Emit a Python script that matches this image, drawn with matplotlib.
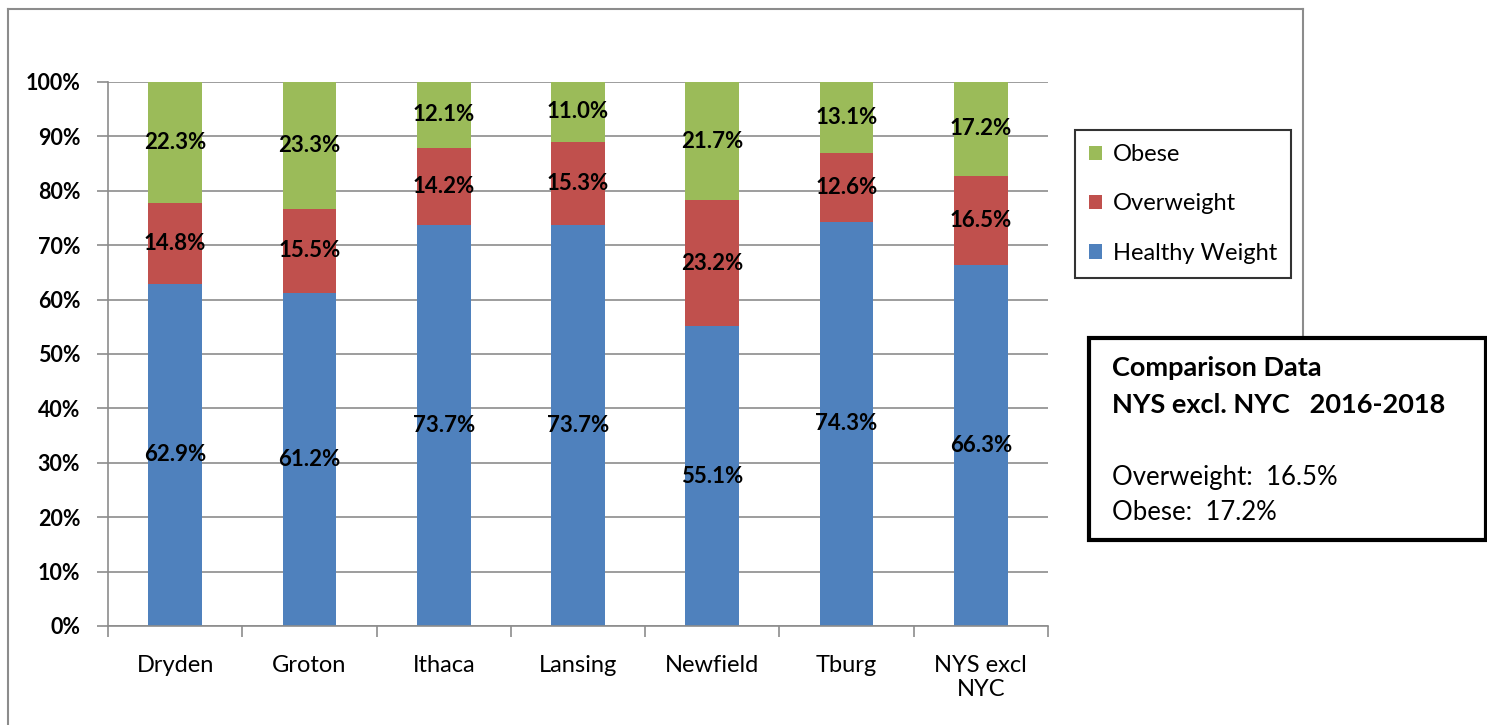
import matplotlib.pyplot as plt
import matplotlib.patches as mpatches
from matplotlib.lines import Line2D
import numpy as np

plt.rcParams['font.family'] = ['Lato', 'DejaVu Sans']

# ── data ──────────────────────────────────────────────────────────────────────
CATEGORIES = ['Dryden', 'Groton', 'Ithaca', 'Lansing', 'Newfield', 'Tburg', 'NYS excl\nNYC']
HEALTHY    = [62.9, 61.2, 73.7, 73.7, 55.1, 74.3, 66.3]
OVERWEIGHT = [14.8, 15.5, 14.2, 15.3, 23.2, 12.6, 16.5]
OBESE      = [22.3, 23.3, 12.1, 11.0, 21.7, 13.1, 17.2]
SERIES     = ['Healthy Weight', 'Overweight', 'Obese']
COLORS     = ['#4F81BD', '#C0504D', '#9BBB59']
Y_TICKS    = [0, 10, 20, 30, 40, 50, 60, 70, 80, 90, 100]

W, H = 1487, 725
fig = plt.figure(figsize=(W / 100, H / 100), dpi=100)


def fx(px):
    return px / W


def fy(py):
    return 1 - py / H


# ── outer chart frame (partly cut off) ────────────────────────────────────────
frame_kw = dict(color='#8c8c8c', lw=1.5, transform=fig.transFigure)
fig.add_artist(Line2D([fx(8), fx(8)], [fy(9), fy(730)], **frame_kw))
fig.add_artist(Line2D([fx(8), fx(1303)], [fy(9), fy(9)], **frame_kw))
fig.add_artist(Line2D([fx(1303), fx(1303)], [fy(9), fy(338)], **frame_kw))

# ── stacked bars ──────────────────────────────────────────────────────────────
ax = fig.add_axes([fx(108), fy(626), fx(1048) - fx(108), fy(82) - fy(626)])
x = np.arange(len(CATEGORIES))
bottom = np.zeros(len(CATEGORIES))
handles = []
for vals, name, col in zip([HEALTHY, OVERWEIGHT, OBESE], SERIES, COLORS):
    vals = np.array(vals)
    bars = ax.bar(x, vals, width=0.40, bottom=bottom, color=col, zorder=2, label=name)
    handles.append(bars)
    for xi, b, v in zip(x, bottom, vals):
        ax.text(xi, b + v / 2, f"{v:.1f}%", ha='center', va='center',
                fontsize=16, fontweight='bold', color='black', zorder=3)
    bottom += vals

ax.set_xlim(-0.5, len(CATEGORIES) - 0.5)
ax.set_ylim(0, 100)
ax.set_yticks(Y_TICKS)
ax.set_yticklabels([f"{t}%" for t in Y_TICKS], fontsize=15.5, fontweight='bold')
ax.grid(axis='y', color='#8c8c8c', lw=1.2, zorder=0)
ax.tick_params(axis='y', length=8, width=1.2, color='#8c8c8c', pad=12)

ax.set_xticks(x)
ax.set_xticklabels(CATEGORIES, fontsize=17, linespacing=1.15)
ax.set_xticks(np.arange(len(CATEGORIES) + 1) - 0.5, minor=True)
ax.tick_params(axis='x', which='major', length=0, pad=21)
ax.tick_params(axis='x', which='minor', length=8, width=1.2, color='#8c8c8c')
for side in ['top', 'right']:
    ax.spines[side].set_visible(False)
for side in ['left', 'bottom']:
    ax.spines[side].set_color('#8c8c8c')
    ax.spines[side].set_linewidth(1.2)

# ── legend ────────────────────────────────────────────────────────────────────
leg = fig.legend(handles[::-1], SERIES[::-1], loc='upper left',
                 bbox_to_anchor=(fx(1075), fy(130)), bbox_transform=fig.transFigure,
                 fontsize=17, frameon=True, fancybox=False, handlelength=0.55,
                 handleheight=0.55, handletextpad=0.45, labelspacing=1.2,
                 borderpad=0.6, borderaxespad=0)
leg.get_frame().set_edgecolor('black')
leg.get_frame().set_linewidth(1.5)

# ── comparison box ────────────────────────────────────────────────────────────
fig.add_artist(mpatches.Rectangle((fx(1089), fy(540)), fx(1486) - fx(1089), fy(338) - fy(540),
                                  transform=fig.transFigure, facecolor='white',
                                  edgecolor='black', lw=3, zorder=5))
fig.text(fx(1112), fy(368), "Comparison Data", fontsize=19.5, fontweight='bold',
         va='center', zorder=6)
fig.text(fx(1112), fy(405), "NYS excl. NYC   2016-2018", fontsize=19.5, fontweight='bold',
         va='center', zorder=6)
fig.text(fx(1112), fy(477), "Overweight:  16.5%", fontsize=18.5, va='center', zorder=6)
fig.text(fx(1112), fy(512), "Obese:  17.2%", fontsize=18.5, va='center', zorder=6)

fig.savefig('out.png', dpi=100)
